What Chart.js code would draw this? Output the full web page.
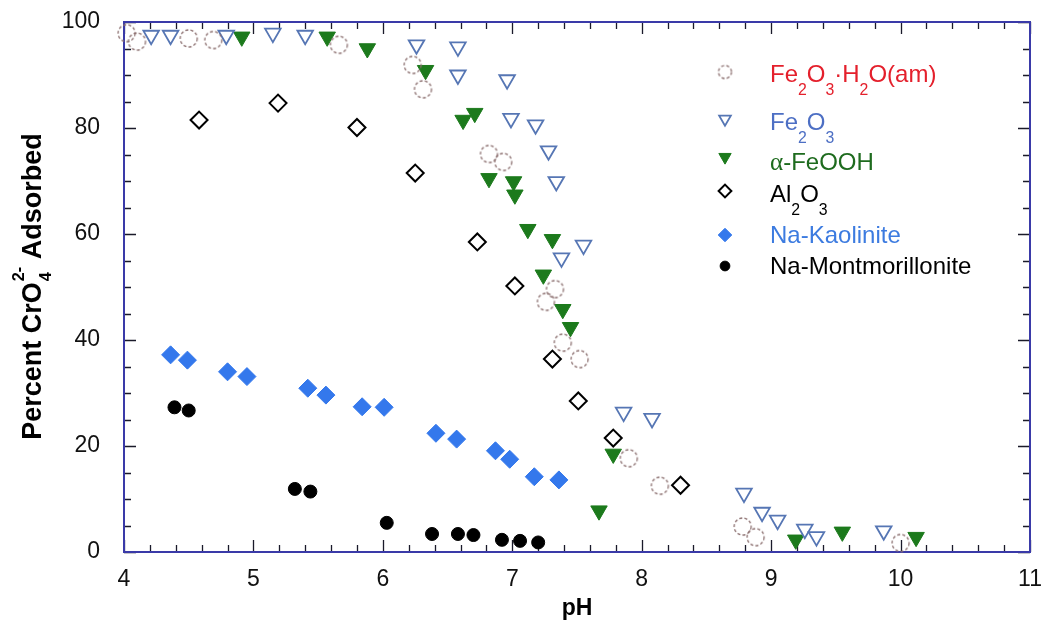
<!DOCTYPE html>
<html>
<head>
<meta charset="utf-8">
<script src="https://cdn.jsdelivr.net/npm/chart.js@4.4.0/dist/chart.umd.min.js"></script>
<style>
  html, body { margin: 0; padding: 0; background: #fff; }
  #wrap { width: 1048px; height: 628px; }
</style>
</head>
<body>
<div id="wrap"><canvas id="c" width="1048" height="628"></canvas></div>
<script>
/* CrO4(2-) adsorption vs pH on six sorbents */

// Fe2O3·H2O(am) - open dashed circles
const amPH  = [4.02, 4.10, 4.50, 4.69, 5.66, 6.23, 6.31, 6.82, 6.93, 7.26, 7.33, 7.39, 7.52, 7.90, 8.14, 8.78, 8.88, 10.00];
const amPct = [97.9, 96.3, 96.9, 96.6, 95.7, 91.9, 87.3, 75.1, 73.6, 47.2, 49.6, 39.5, 36.4, 17.7, 12.5, 4.8, 2.8, 1.7];

// Fe2O3 - open triangles
const hemPH  = [4.21, 4.36, 4.79, 5.15, 5.40, 6.26, 6.58, 6.58, 6.96, 6.99, 7.18, 7.28, 7.34, 7.38, 7.55, 7.86, 8.08, 8.79, 8.93, 9.05, 9.26, 9.35, 9.87];
const hemPct = [97.5, 97.5, 97.5, 97.9, 97.5, 95.7, 95.3, 90.0, 89.1, 81.8, 80.6, 75.7, 69.9, 55.5, 57.9, 26.4, 25.2, 11.1, 7.5, 6.0, 4.3, 2.9, 4.0];

// alpha-FeOOH - filled green triangles
const goePH  = [4.91, 5.57, 5.88, 6.33, 6.62, 6.71, 6.82, 7.01, 7.02, 7.12, 7.31, 7.24, 7.39, 7.45, 7.78, 7.67, 9.19, 9.55, 10.12];
const goePct = [97.2, 97.2, 95.0, 90.9, 81.5, 82.8, 70.5, 69.9, 67.4, 60.9, 59.0, 52.3, 45.8, 42.4, 18.5, 7.8, 2.3, 3.8, 2.8];

// Al2O3 - open diamonds
const aluPH  = [4.58, 5.19, 5.80, 6.25, 6.73, 7.02, 7.31, 7.51, 7.78, 8.30];
const aluPct = [81.5, 84.7, 80.1, 71.5, 58.5, 50.2, 36.4, 28.5, 21.5, 12.6];

// Na-Kaolinite - filled blue diamonds
const kaoPH  = [4.36, 4.49, 4.80, 4.95, 5.42, 5.56, 5.84, 6.01, 6.41, 6.57, 6.87, 6.98, 7.17, 7.36];
const kaoPct = [37.2, 36.2, 34.0, 33.1, 30.9, 29.6, 27.4, 27.3, 22.4, 21.3, 19.1, 17.5, 14.2, 13.6];

// Na-Montmorillonite - filled black dots
const monPH  = [4.39, 4.50, 5.32, 5.44, 6.03, 6.38, 6.58, 6.70, 6.92, 7.06, 7.20];
const monPct = [27.3, 26.7, 11.9, 11.4, 5.5, 3.4, 3.4, 3.2, 2.3, 2.1, 1.8];

// axes
const xMin = 4, xMax = 11, xStep = 1, xMinorStep = 0.2;
const yMin = 0, yMax = 100, yStep = 20, yMinorStep = 5;

const FONT = "'Liberation Sans', Arial, sans-serif";
const FRAME = "#3a3aa8";

const pts = (xs, ys) => xs.map((x, i) => ({ x, y: ys[i] }));

// dashed open circle used as point style for the amorphous oxide
function dashedCircle(r, color) {
  const s = Math.ceil(2 * r + 4), c = document.createElement("canvas");
  c.width = s; c.height = s;
  const g = c.getContext("2d");
  g.strokeStyle = color; g.lineWidth = 1.3; g.setLineDash([3, 2.2]);
  g.beginPath(); g.arc(s / 2, s / 2, r, 0, Math.PI * 2); g.stroke();
  return c;
}
const circBig = dashedCircle(8.5, "#8c7070");
const circSmall = dashedCircle(6.5, "#8c7070");

const series = [
  { label: "am", xs: amPH, ys: amPct, style: circBig, legendStyle: circSmall, r: 9, fill: "rgba(0,0,0,0)", line: "#8c7070", bw: 0, rot: 0 },
  { label: "hem", xs: hemPH, ys: hemPct, style: "triangle", r: 9, fill: "#ffffff", line: "#5676b4", bw: 1.8, rot: 180 },
  { label: "goe", xs: goePH, ys: goePct, style: "triangle", r: 9.5, fill: "#1c7a1c", line: "#1c7a1c", bw: 1, rot: 180 },
  { label: "alu", xs: aluPH, ys: aluPct, style: "rectRot", r: 8.5, fill: "#ffffff", line: "#000000", bw: 2, rot: 0 },
  { label: "kao", xs: kaoPH, ys: kaoPct, style: "rectRot", r: 9, fill: "#3478ec", line: "#3478ec", bw: 1, rot: 0 },
  { label: "mon", xs: monPH, ys: monPct, style: "circle", r: 6.5, fill: "#000000", line: "#000000", bw: 1, rot: 0 },
];

// legend rows: runs of [text, kind]
const legendRows = [
  { color: "#e4202c", base: 82, my: 72, runs: [["Fe"], ["2", "sub"], ["O"], ["3", "sub"], ["·"], ["H"], ["2", "sub"], ["O(am)"]] },
  { color: "#4d6fc4", base: 130, my: 119, runs: [["Fe"], ["2", "sub"], ["O"], ["3", "sub"]] },
  { color: "#1e6b1e", base: 170, my: 157, runs: [["α", "serif"], ["-FeOOH"]] },
  { color: "#000000", base: 202, my: 191, runs: [["Al"], ["2", "sub"], ["O"], ["3", "sub"]] },
  { color: "#3c7be0", base: 243, my: 235, runs: [["Na-Kaolinite"]] },
  { color: "#000000", base: 274, my: 266, runs: [["Na-Montmorillonite"]] },
];

function drawRuns(ctx, runs, x, y, size, weight) {
  runs.forEach(([t, k]) => {
    let fs = size, dy = 0, fam = FONT;
    if (k === "sub") { fs = size * 0.66; dy = size * 0.55; }
    if (k === "serif") { fam = "'Liberation Serif', 'Times New Roman', serif"; fs = size * 1.05; }
    ctx.font = `${weight} ${fs}px ${fam}`;
    ctx.fillText(t, x, y + dy);
    x += ctx.measureText(t).width;
  });
}

const framePlugin = {
  id: "frame",
  beforeDatasetsDraw(chart) {
    const { ctx, chartArea: a, scales: { x, y } } = chart;
    ctx.save();
    ctx.strokeStyle = "#1a1a2a"; ctx.lineWidth = 1.3;
    ctx.beginPath();
    for (let v = xMin; v <= xMax + 1e-9; v += xMinorStep) {
      const major = Math.abs(v - Math.round(v)) < 1e-6;
      const len = major ? 12 : 7, px = Math.round(x.getPixelForValue(v)) + 0.5;
      ctx.moveTo(px, a.bottom); ctx.lineTo(px, a.bottom - len);
      ctx.moveTo(px, a.top); ctx.lineTo(px, a.top + len);
    }
    for (let v = yMin; v <= yMax + 1e-9; v += yMinorStep) {
      const major = v % yStep === 0;
      const len = major ? 12 : 7, py = Math.round(y.getPixelForValue(v)) + 0.5;
      ctx.moveTo(a.left, py); ctx.lineTo(a.left + len, py);
      ctx.moveTo(a.right, py); ctx.lineTo(a.right - len, py);
    }
    ctx.stroke();
    ctx.strokeStyle = FRAME; ctx.lineWidth = 2;
    ctx.strokeRect(a.left, a.top, a.right - a.left, a.bottom - a.top);

    // y axis title with stacked sub/superscript
    ctx.fillStyle = "#000";
    ctx.translate(41, 287);
    ctx.rotate(-Math.PI / 2);
    const size = 27;
    ctx.font = `bold ${size}px ${FONT}`;
    const w1 = ctx.measureText("Percent CrO").width;
    const w3 = ctx.measureText(" Adsorbed").width;
    ctx.font = `bold ${size * 0.6}px ${FONT}`;
    const w2 = Math.max(ctx.measureText("2-").width, ctx.measureText("4").width);
    let tx = -(w1 + w2 + w3) / 2;
    ctx.textBaseline = "alphabetic";
    ctx.font = `bold ${size}px ${FONT}`;
    ctx.fillText("Percent CrO", tx, 0); tx += w1;
    ctx.font = `bold ${size * 0.6}px ${FONT}`;
    ctx.fillText("2-", tx + 1, -size * 0.62);
    ctx.fillText("4", tx + 1, size * 0.36);
    tx += w2 + 1;
    ctx.font = `bold ${size}px ${FONT}`;
    ctx.fillText(" Adsorbed", tx, 0);
    ctx.restore();
  },
  afterDatasetsDraw(chart) {
    const ctx = chart.ctx;
    ctx.save();
    ctx.textBaseline = "alphabetic";
    legendRows.forEach((row, i) => {
      const s = series[i];
      ctx.fillStyle = s.fill; ctx.strokeStyle = s.line; ctx.lineWidth = s.bw;
      Chart.helpers.drawPoint(ctx, {
        pointStyle: s.legendStyle || s.style, rotation: s.rot,
        radius: s.r * 0.75, borderWidth: s.bw,
      }, 725, row.my);
      ctx.fillStyle = row.color;
      drawRuns(ctx, row.runs, 770, row.base, 24, "normal");
    });
    ctx.restore();
  },
};

new Chart(document.getElementById("c"), {
  type: "scatter",
  data: {
    datasets: series.map(s => ({
      label: s.label,
      data: pts(s.xs, s.ys),
      pointStyle: s.style,
      pointRadius: s.r,
      pointHoverRadius: s.r,
      pointRotation: s.rot,
      backgroundColor: s.fill,
      borderColor: s.line,
      pointBorderWidth: s.bw,
      borderWidth: s.bw,
      showLine: false,
      clip: false,
    })),
  },
  options: {
    responsive: false,
    animation: false,
    devicePixelRatio: 1,
    layout: { padding: { top: 22, right: 18, left: 0, bottom: 0 } },
    plugins: { legend: { display: false }, tooltip: { enabled: false } },
    scales: {
      x: {
        type: "linear", min: xMin, max: xMax,
        grid: { display: false, drawTicks: false },
        border: { display: false },
        ticks: { stepSize: xStep, color: "#111", padding: 14, font: { family: FONT, size: 23 } },
        title: { display: true, text: "pH", color: "#000", padding: { top: 0, bottom: 6 },
                 font: { family: FONT, size: 23, weight: "bold" } },
        afterFit(scale) { scale.height = 76; scale.paddingLeft = 0; scale.paddingRight = 0; },
      },
      y: {
        type: "linear", min: yMin, max: yMax,
        grid: { display: false, drawTicks: false },
        border: { display: false },
        ticks: { stepSize: yStep, color: "#111", padding: 24, font: { family: FONT, size: 23 } },
        afterFit(scale) { scale.width = 124; scale.paddingTop = 0; scale.paddingBottom = 0; },
      },
    },
  },
  plugins: [framePlugin],
});
</script>
</body>
</html>
